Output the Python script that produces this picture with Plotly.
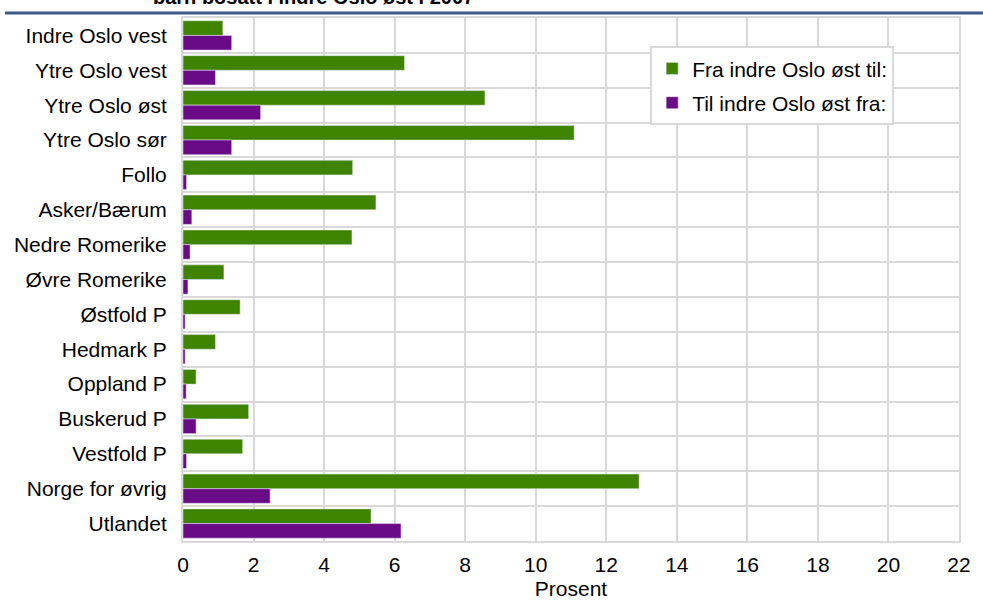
import plotly.graph_objects as go

# Data: share of moves (percent), children living in inner Oslo east in 2007
regions = ['Indre Oslo vest', 'Ytre Oslo vest', 'Ytre Oslo øst', 'Ytre Oslo sør', 'Follo',
           'Asker/Bærum', 'Nedre Romerike', 'Øvre Romerike', 'Østfold P', 'Hedmark P',
           'Oppland P', 'Buskerud P', 'Vestfold P', 'Norge for øvrig', 'Utlandet']
fra_indre_ost = [1.13, 6.28, 8.56, 11.09, 4.81, 5.47, 4.79, 1.16, 1.62, 0.92,
                 0.37, 1.86, 1.69, 12.93, 5.33]
til_indre_ost = [1.38, 0.92, 2.2, 1.38, 0.1, 0.25, 0.2, 0.14, 0.06, 0.06,
                 0.09, 0.37, 0.1, 2.47, 6.18]

x_ticks = list(range(0, 23, 2))

green = '#3f8400'
purple = '#6b0a87'
grid = '#d9d9d9'
font_family = 'Arial, Liberation Sans, sans-serif'

fig = go.Figure()
fig.add_trace(go.Bar(y=regions, x=fra_indre_ost, orientation='h', legendgroup='a',
                     name='Fra indre Oslo øst til:', marker_color=green))
fig.add_trace(go.Bar(y=regions, x=til_indre_ost, orientation='h', legendgroup='b',
                     name='Til indre Oslo øst fra:', marker_color=purple))

plot_h = 600 - 18 - 59

fig.update_layout(
    width=983, height=600,
    margin=dict(l=183, r=24, t=18, b=59),
    barmode='group',
    bargap=0.16,
    bargroupgap=0,
    plot_bgcolor='white',
    paper_bgcolor='white',
    font=dict(family=font_family, size=21, color='#000000'),
    showlegend=True,
    legend=dict(
        x=0.602, y=0.946, xanchor='left', yanchor='top',
        bgcolor='white', bordercolor=grid, borderwidth=2,
        traceorder='grouped', tracegroupgap=4,
        font=dict(size=21),
        itemwidth=30,
    ),
    xaxis=dict(
        range=[0, 22], tickvals=x_ticks,
        showgrid=True, gridcolor=grid, gridwidth=2,
        zeroline=False, showline=True, linecolor=grid, linewidth=2, mirror=True,
        ticks='', ticklen=0, automargin=False,
        ticklabelstandoff=4,
        title=dict(text='Prosent', font=dict(size=21), standoff=8),
    ),
    yaxis=dict(
        autorange='reversed',
        tickson='boundaries',
        showgrid=True, gridcolor=grid, gridwidth=2,
        showline=True, linecolor=grid, linewidth=2, mirror=True,
        ticks='', ticklen=0, automargin=False,
        ticklabelstandoff=10,
    ),
    shapes=[dict(type='line', xref='paper', yref='paper',
                 x0=-178 / 776, x1=1 + 24 / 776,
                 y0=1 + 5 / plot_h, y1=1 + 5 / plot_h,
                 line=dict(color='#3d5a8c', width=3))],
    annotations=[dict(text='<b>barn bosatt i indre Oslo øst i 2007</b>',
                      xref='paper', yref='paper',
                      x=(313 - 183) / 776, y=1 + 21 / plot_h,
                      xanchor='center', yanchor='middle', showarrow=False,
                      font=dict(size=20, color='#000000'))],
)

fig.write_html('out.html', config={'displayModeBar': False},
               post_script="document.body.style.margin='0';")
